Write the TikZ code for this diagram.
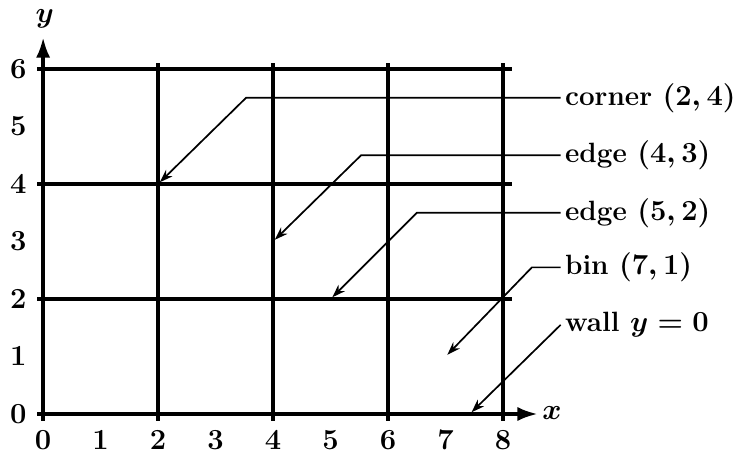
\documentclass[tikz,border=0pt]{standalone}
\usepackage{amsmath,amssymb}
\usepackage{tikz}
\usetikzlibrary{calc,arrows.meta}
\usepackage{xcolor}

\begin{document}
\begin{tikzpicture}[x=1cm,y=1cm,
    font=\fontsize{13.8}{16}\selectfont\bfseries\boldmath,
    grid/.style={line width=1.7pt, black},
    pointer/.style={line width=0.85pt, black, -{Stealth[length=6.5pt,width=4.5pt]}},
    tag/.style={anchor=west, inner sep=2pt}]
		\useasboundingbox (-0.75,-0.68) rectangle (12.05,7.2);
		\coordinate (Origin)   at (0,0);
		\coordinate (XAxisMin) at (-0.1,0);
		\coordinate (XAxisMax) at (8.6,0);
		\coordinate (YAxisMin) at (0,-0.12);
		\coordinate (YAxisMax) at (0,6.55);
		\draw [grid,-{Latex[length=10pt,width=7pt]}] (XAxisMin) -- (XAxisMax);% x axis
		\draw [grid,-{Latex[length=10pt,width=7pt]}] (YAxisMin) -- (YAxisMax);% y axis
		\node (xlab) at (8.85,0.02) {$x$};
		\node (ylab) at (0.03,6.88) {$y$};

		\foreach \y in {2,4,6}{% horizontal grid lines
		  \draw [grid] (-0.1,\y) -- (8.15,\y);
		}
		\foreach \x in {2,4,6,8}{% vertical grid lines
		  \draw [grid] (\x,-0.12) -- (\x,6.1);
		}
		\foreach \x in {0,...,8}{% ticks on the x axis
		  \node (xt\x) at (\x,-0.46) {$\x$};
		}
		\foreach \y in {0,...,6}{% ticks on the y axis
		  \node (yt\y) at (-0.43,\y) {$\y$};
		}

		% points the labels refer to
		\coordinate (Corner) at (2.03,4.03);
		\coordinate (EdgeA)  at (4.03,3.03);
		\coordinate (EdgeB)  at (5.03,2.03);
		\coordinate (Bin)    at (7.03,1.03);
		\coordinate (Wall)   at (7.45,0.03);

		\node [tag] (corner) at (9.0,5.5)  {corner $(2,4)$};
		\node [tag] (edgea)  at (9.0,4.5)  {edge $(4,3)$};
		\node [tag] (edgeb)  at (9.0,3.5)  {edge $(5,2)$};
		\node [tag] (bin)    at (9.0,2.55) {bin $(7,1)$};
		\node [tag] (wall)   at (9.0,1.55) {wall $y=0$};

		\draw [pointer] (corner.west) -- ($(Corner)+(1.5,1.47)$) -- (Corner);
		\draw [pointer] (edgea.west) -- ($(EdgeA)+(1.5,1.47)$) -- (EdgeA);
		\draw [pointer] (edgeb.west) -- ($(EdgeB)+(1.47,1.47)$) -- (EdgeB);
		\draw [pointer] (bin.west) -- ($(Bin)+(1.47,1.52)$) -- (Bin);
		\draw [pointer] (wall.west) -- (Wall);
	  \end{tikzpicture}
\end{document}
